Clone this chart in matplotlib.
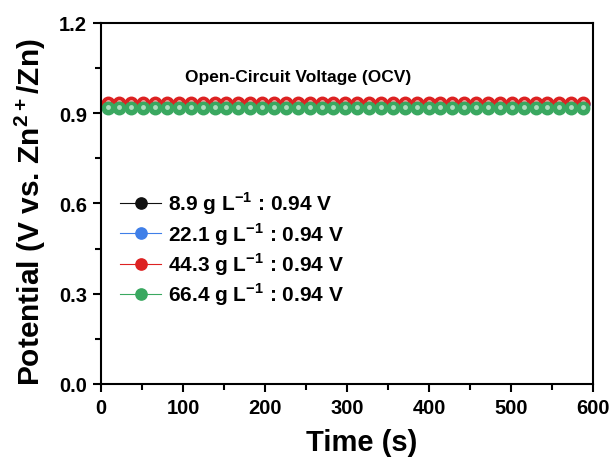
import matplotlib as mpl
import matplotlib.pyplot as plt
import numpy as np

mpl.use("Agg")
plt.rcParams["font.family"] = ["Liberation Sans", "DejaVu Sans"]
plt.rcParams["font.weight"] = "bold"
plt.rcParams["mathtext.fontset"] = "custom"
plt.rcParams["mathtext.rm"] = "Liberation Sans:bold"
plt.rcParams["mathtext.bf"] = "Liberation Sans:bold"

time_s = np.arange(8, 590, 14.5)
labels = ["8.9 g L$^{-1}$ : 0.94 V", "22.1 g L$^{-1}$ : 0.94 V",
          "44.3 g L$^{-1}$ : 0.94 V", "66.4 g L$^{-1}$ : 0.94 V"]
potentials = [0.932, 0.931, 0.933, 0.918]
colors = ["#111111", "#3f7fe8", "#dd2222", "#3aa860"]

fig = plt.figure(figsize=(6.14, 4.6), dpi=100)
ax = fig.add_axes([101 / 614, 75 / 460, 492 / 614, 361 / 460])

for v, c, lab in zip(potentials, colors, labels):
    y = np.full_like(time_s, v)
    ax.plot(time_s, y, "-", color=c, lw=0.8, marker="o", ms=9,
            mec=c, mfc=c, label=lab)
    ax.plot(time_s, y + 0.003, "o", ms=3.5, color="white", alpha=0.6,
            mec="none")

ax.text(240, 1.023, "Open-Circuit Voltage (OCV)", ha="center", va="center",
        fontsize=12.5, fontweight="bold")

ax.set_xlim(0, 600)
ax.set_ylim(0, 1.2)
ax.set_xticks(np.arange(0, 601, 100))
ax.set_yticks([0.0, 0.3, 0.6, 0.9, 1.2])
ax.set_yticklabels(["0.0", "0.3", "0.6", "0.9", "1.2"])
ax.xaxis.set_minor_locator(mpl.ticker.MultipleLocator(50))
ax.yaxis.set_minor_locator(mpl.ticker.MultipleLocator(0.15))
ax.tick_params(which="both", direction="out", width=1.5)
ax.tick_params(which="major", length=6, labelsize=14.5, pad=4)
ax.tick_params(which="minor", length=4)
for s in ax.spines.values():
    s.set_linewidth(1.5)

ax.set_xlabel("Time (s)", fontsize=21, fontweight="bold", labelpad=8)
ax.xaxis.label.set_x(0.53)
ax.set_ylabel("Potential (V vs. Zn$^{2+}$/Zn)", fontsize=21.5,
              fontweight="bold", labelpad=8)
ax.yaxis.label.set_y(0.48)

leg = ax.legend(loc="upper left", bbox_to_anchor=(0.0, 0.59), frameon=False,
                fontsize=15, handlelength=2.0, labelspacing=0.18,
                handletextpad=0.3, markerscale=0.9)

fig.savefig("out.png", dpi=100)
